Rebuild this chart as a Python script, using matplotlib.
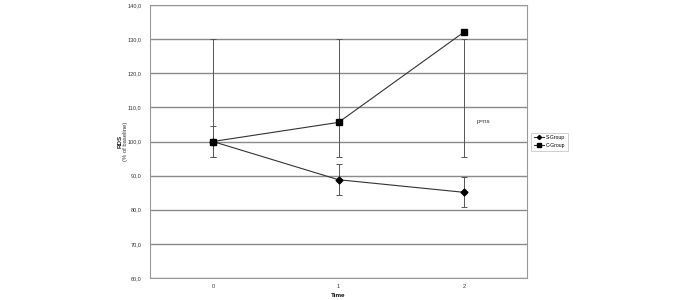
import matplotlib
matplotlib.use("Agg")
from matplotlib import pyplot as plt
import numpy as np

plt.rcParams["font.family"] = ["Liberation Sans", "DejaVu Sans"]

times = ["0", "1", "2"]
s_group = [100.0, 88.8, 85.1]
s_low = [95.5, 84.3, 80.8]
s_high = [104.5, 93.4, 89.6]
c_group = [100.0, 105.6, 132.1]
c_low = [95.5, 95.5, 95.5]
c_high = [130.0, 130.0, 130.0]
yticks = [60, 70, 80, 90, 100, 110, 120, 130, 140]

fig = plt.figure(figsize=(6.85, 3.0), dpi=100)
ax = fig.add_axes([150/685, 22/300, 377/685, 273/300])
x = np.arange(len(times))

for yv in yticks:
    ax.axhline(yv, color="#8a8a8a", lw=1.0, zorder=0)

# error bars as drawn in the original (low/high limits)
ax.vlines(x, c_low, c_high, color="#555555", lw=0.7, zorder=1)
ax.vlines(x, s_low, s_high, color="#555555", lw=0.7, zorder=1)
for lo, hi in [(c_low, c_high), (s_low, s_high)]:
    ax.plot(x, lo, ls="none", marker="_", ms=4, mew=0.7, color="#555555", zorder=1)
    ax.plot(x, hi, ls="none", marker="_", ms=4, mew=0.7, color="#555555", zorder=1)

ax.plot(x, s_group, color="#333333", lw=0.8, marker="D", ms=3.5,
        mfc="black", mec="black", label="S-Group", zorder=3)
ax.plot(x, c_group, color="#333333", lw=0.8, marker="s", ms=4.8,
        mfc="black", mec="black", label="C-Group", zorder=3)

ax.text(2.1, 106.0, "p=ns", fontsize=4.5, color="#333333", va="center")

ax.set_xlim(-0.5, 2.5)
ax.set_ylim(60, 140)
ax.set_xticks(x)
ax.set_xticklabels(times)
ax.set_yticks(yticks)
ax.set_yticklabels([f"{v:.1f}".replace(".", ",") for v in yticks])
ax.tick_params(axis="y", labelsize=4, length=0, colors="#333333", pad=6)
ax.tick_params(axis="x", labelsize=4, length=0, colors="#333333", pad=4)
for sp in ax.spines.values():
    sp.set_color("#999999")
    sp.set_linewidth(0.8)

ax.set_xlabel("Time", fontsize=4.5, fontweight="bold", labelpad=3)
ax.text(-0.080, 0.5, "RDS", transform=ax.transAxes, rotation=90, fontsize=4.5,
        fontweight="bold", ha="center", va="center", color="#222222")
ax.text(-0.065, 0.5, "(% of baseline)", transform=ax.transAxes, rotation=90,
        fontsize=4.2, ha="center", va="center", color="#333333")

leg = ax.legend(loc="center left", bbox_to_anchor=(1.005, 0.5), fontsize=3.6,
                frameon=True, fancybox=False, handlelength=2.0, markerscale=0.6,
                borderpad=0.5, labelspacing=0.6, handletextpad=0.4)
leg.get_frame().set_edgecolor("#bbbbbb")
leg.get_frame().set_linewidth(0.6)

fig.savefig("out.png", dpi=100)
